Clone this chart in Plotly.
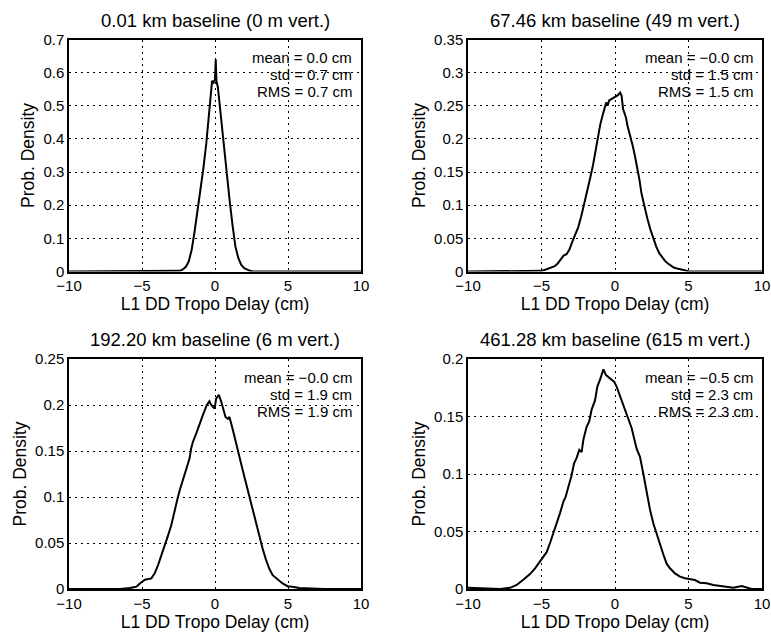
import plotly.graph_objects as go

# ---------------- data ----------------
titles = ["0.01 km baseline (0 m vert.)", "67.46 km baseline (49 m vert.)",
          "192.20 km baseline (6 m vert.)", "461.28 km baseline (615 m vert.)"]
stats_mean = ["mean = 0.0 cm", "mean = \u22120.0 cm", "mean = \u22120.0 cm", "mean = \u22120.5 cm"]
stats_std = ["std = 0.7 cm", "std = 1.5 cm", "std = 1.9 cm", "std = 2.3 cm"]
stats_rms = ["RMS = 0.7 cm", "RMS = 1.5 cm", "RMS = 1.9 cm", "RMS = 2.3 cm"]

x_ticks = [-10, -5, 0, 5, 10]
x_ticktext = ["\u221210", "\u22125", "0", "5", "10"]

y1_ticks = [0, 0.1, 0.2, 0.3, 0.4, 0.5, 0.6, 0.7]
y1_ticktext = ["0", "0.1", "0.2", "0.3", "0.4", "0.5", "0.6", "0.7"]
y2_ticks = [0, 0.05, 0.1, 0.15, 0.2, 0.25, 0.3, 0.35]
y2_ticktext = ["0", "0.05", "0.1", "0.15", "0.2", "0.25", "0.3", "0.35"]
y3_ticks = [0, 0.05, 0.1, 0.15, 0.2, 0.25]
y3_ticktext = ["0", "0.05", "0.1", "0.15", "0.2", "0.25"]
y4_ticks = [0, 0.05, 0.1, 0.15, 0.2]
y4_ticktext = ["0", "0.05", "0.1", "0.15", "0.2"]

# panel 1: 0.01 km
x1 = [-10, -2.6, -2.4, -2.2, -2.0, -1.8, -1.6, -1.4, -1.2, -1.0, -0.8, -0.6, -0.4, -0.3,
      -0.2, -0.1, 0.0, 0.05, 0.1, 0.2, 0.3, 0.4, 0.6, 0.8, 1.0, 1.2, 1.4, 1.6, 1.8, 2.0,
      2.2, 2.4, 2.6, 10]
d1 = [0, 0, 0.002, 0.006, 0.014, 0.03, 0.065, 0.12, 0.18, 0.245, 0.31, 0.385, 0.47, 0.52,
      0.575, 0.57, 0.58, 0.64, 0.575, 0.555, 0.51, 0.47, 0.385, 0.3, 0.215, 0.14, 0.075,
      0.04, 0.02, 0.01, 0.005, 0.002, 0.0, 0]

# panel 2: 67.46 km
x2 = [-10, -5.3, -5.0, -4.7, -4.4, -4.1, -3.9, -3.7, -3.5, -3.3, -3.1, -2.9, -2.7, -2.5,
      -2.3, -2.1, -1.9, -1.7, -1.5, -1.4, -1.3, -1.15, -1.0, -0.85, -0.7, -0.6, -0.5, -0.4,
      -0.25, -0.1, 0.05, 0.2, 0.35, 0.45, 0.55, 0.65, 0.75, 0.85, 0.95, 1.05, 1.2, 1.35,
      1.5, 1.65, 1.8, 2.0, 2.2, 2.4, 2.6, 2.8, 3.0, 3.2, 3.4, 3.6, 3.8, 4.0, 4.3, 4.6,
      5.0, 5.3, 10]
d2 = [0, 0, 0.001, 0.003, 0.005, 0.008, 0.012, 0.018, 0.024, 0.026, 0.033, 0.045, 0.056,
      0.067, 0.083, 0.101, 0.118, 0.14, 0.16, 0.173, 0.187, 0.205, 0.222, 0.235, 0.246,
      0.255, 0.25, 0.258, 0.26, 0.262, 0.264, 0.266, 0.27, 0.265, 0.245, 0.238, 0.232,
      0.22, 0.212, 0.2, 0.19, 0.175, 0.158, 0.14, 0.118, 0.097, 0.08, 0.064, 0.05, 0.038,
      0.028, 0.022, 0.016, 0.012, 0.009, 0.006, 0.004, 0.002, 0.0005, 0, 0]

# panel 3: 192.20 km
x3 = [-10, -6.5, -5.84, -5.38, -5.15, -4.8, -4.36, -4.13, -3.9, -3.68, -3.45, -3.22, -3.0,
      -2.88, -2.65, -2.54, -2.42, -2.2, -1.97, -1.74, -1.63, -1.51, -1.29, -1.06, -0.83,
      -0.56, -0.38, -0.26, -0.03, 0.08, 0.26, 0.42, 0.72, 0.88, 0.99, 1.22, 1.44, 1.67,
      1.9, 2.12, 2.35, 2.58, 2.81, 3.04, 3.26, 3.49, 3.72, 3.95, 4.29, 4.63, 4.97, 5.31,
      5.77, 6.7, 7.5, 10]
d3 = [0, 0, 0.001, 0.0025, 0.006, 0.01, 0.0115, 0.017, 0.026, 0.036, 0.046, 0.058, 0.069,
      0.078, 0.094, 0.1, 0.107, 0.118, 0.129, 0.142, 0.153, 0.16, 0.169, 0.18, 0.189,
      0.2, 0.204, 0.2, 0.196, 0.207, 0.211, 0.204, 0.187, 0.185, 0.187, 0.173, 0.16,
      0.144, 0.129, 0.115, 0.1, 0.086, 0.071, 0.057, 0.044, 0.032, 0.022, 0.015, 0.01,
      0.006, 0.003, 0.0025, 0.001, 0.0005, 0, 0]

# panel 4: 461.28 km
x4 = [-10, -7.82, -7.14, -6.69, -6.24, -5.78, -5.44, -5.1, -4.88, -4.65, -4.42, -4.2,
      -3.97, -3.74, -3.51, -3.36, -3.17, -2.95, -2.79, -2.61, -2.43, -2.27, -2.15, -1.93,
      -1.75, -1.59, -1.36, -1.2, -1.02, -0.79, -0.61, -0.34, -0.05, 0.11, 0.45, 0.79,
      1.13, 1.47, 1.7, 1.93, 2.15, 2.38, 2.61, 2.83, 3.06, 3.29, 3.51, 3.74, 4.08, 4.42,
      4.76, 5.1, 5.44, 5.78, 6.24, 6.69, 7.37, 8.05, 8.62, 8.96, 9.3, 10]
d4 = [0.001, 0, 0.001, 0.0035, 0.008, 0.013, 0.018, 0.024, 0.027, 0.032, 0.04, 0.048,
      0.057, 0.066, 0.076, 0.08, 0.089, 0.099, 0.109, 0.114, 0.121, 0.119, 0.13, 0.141,
      0.146, 0.156, 0.164, 0.176, 0.182, 0.191, 0.186, 0.183, 0.18, 0.176, 0.164, 0.153,
      0.14, 0.122, 0.115, 0.1, 0.083, 0.069, 0.057, 0.048, 0.038, 0.03, 0.022, 0.018,
      0.0136, 0.0107, 0.0093, 0.0087, 0.0078, 0.0055, 0.005, 0.0035, 0.002, 0.001,
      0.0026, 0.001, 0, 0]

xs = [x1, x2, x3, x4]
ds = [d1, d2, d3, d4]
yranges = [[0, 0.7], [0, 0.35], [0, 0.25], [0, 0.2]]
yticks = [(y1_ticks, y1_ticktext), (y2_ticks, y2_ticktext), (y3_ticks, y3_ticktext),
          (y4_ticks, y4_ticktext)]

# ---------------- layout ----------------
W, H = 771, 633
FONT = "Liberation Sans, Arial, Helvetica, sans-serif"
xdom_left = [69 / W, 361 / W]
xdom_right = [468 / W, 762 / W]
ydom_top = [(H - 271.5) / H, (H - 39.5) / H]
ydom_bot = [(H - 589) / H, (H - 359) / H]
doms = [(xdom_left, ydom_top), (xdom_right, ydom_top),
        (xdom_left, ydom_bot), (xdom_right, ydom_bot)]

fig = go.Figure()
annotations = []
for i in range(4):
    sfx = "" if i == 0 else str(i + 1)
    fig.add_trace(go.Scatter(x=xs[i], y=ds[i], mode="lines",
                             line=dict(color="black", width=2),
                             xaxis="x" + sfx, yaxis="y" + sfx, showlegend=False,
                             hoverinfo="skip"))
    xd, yd = doms[i]
    common = dict(showline=True, linecolor="black", linewidth=1.5, mirror=True,
                  showgrid=True, gridcolor="black", gridwidth=1, griddash="2px,4px",
                  zeroline=False, ticks="", color="black", automargin=False,
                  tickfont=dict(family=FONT, size=15, color="black"))
    fig.layout["xaxis" + sfx] = dict(
        common, domain=xd, range=[-10, 10], tickvals=x_ticks, ticktext=x_ticktext,
        anchor="y" + sfx,
        title=dict(text="L1 DD Tropo Delay (cm)", font=dict(family=FONT, size=17.5, color="black"),
                   standoff=4))
    fig.layout["yaxis" + sfx] = dict(
        common, domain=yd, range=yranges[i], tickvals=yticks[i][0], ticktext=yticks[i][1],
        anchor="x" + sfx,
        title=dict(text="Prob. Density", font=dict(family=FONT, size=17.5, color="black"),
                   standoff=4))
    annotations.append(dict(text=titles[i], xref="x" + sfx + " domain", yref="y" + sfx + " domain",
                            x=0.5, y=1, yshift=19.5, xanchor="center", yanchor="middle",
                            showarrow=False, font=dict(family=FONT, size=18.5, color="black")))
    for j, t in enumerate([stats_mean[i], stats_std[i], stats_rms[i]]):
        annotations.append(dict(text=t, xref="x" + sfx + " domain", yref="y" + sfx + " domain",
                                x=0.975, y=1, yshift=-18 - 17 * j, xanchor="right",
                                yanchor="middle", showarrow=False,
                                font=dict(family=FONT, size=15, color="black")))

fig.update_layout(width=W, height=H, autosize=False,
                  margin=dict(l=0, r=0, t=0, b=0, autoexpand=False),
                  paper_bgcolor="white", plot_bgcolor="white",
                  annotations=annotations, showlegend=False)

fig.write_html("out.html",
               post_script="document.body.style.margin='0';document.body.style.padding='0';")
